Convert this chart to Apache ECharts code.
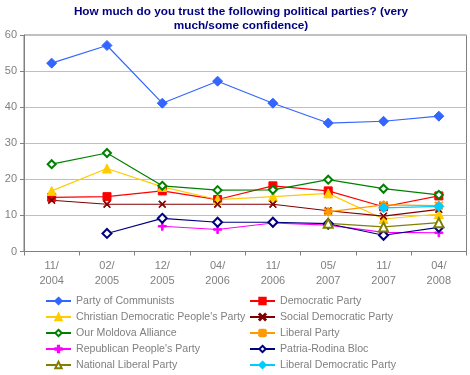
<!DOCTYPE html>
<html>
<head>
<meta charset="utf-8">
<script src="https://cdn.jsdelivr.net/npm/echarts@6/dist/echarts.min.js"></script>
<style>
  html, body { margin: 0; padding: 0; background: #fff; }
  #chart { width: 470px; height: 375px; }
</style>
</head>
<body>
<div id="chart"></div>
<script>
  const periods = ["11/\n2004", "02/\n2005", "12/\n2005", "04/\n2006", "11/\n2006", "05/\n2007", "11/\n2007", "04/\n2008"];
  const yTicks = [0, 10, 20, 30, 40, 50, 60];

  const communists = [52.2, 57.1, 41.1, 47.2, 41.1, 35.6, 36.1, 37.5];
  const democratic = [15.0, 15.2, 16.8, 14.4, 18.2, 16.8, 12.4, 15.4];
  const christianDem = [16.8, 23.0, 17.9, 14.4, 15.2, 16.1, 9.0, 10.4];
  const socialDem = [14.2, 13.1, 13.1, 13.1, 13.1, 11.3, 9.8, 11.7];
  const ourMoldova = [24.2, 27.3, 18.2, 17.0, 17.1, 19.9, 17.4, 15.7];
  const liberal = ["-", "-", "-", "-", "-", 11.0, 12.9, 12.7];
  const republican = ["-", "-", 7.0, 6.1, 7.9, 7.3, 5.3, 5.2];
  const patriaRodina = ["-", 5.0, 9.2, 8.1, 8.1, 7.7, 4.5, 6.7];
  const nationalLiberal = ["-", "-", "-", "-", "-", 7.8, 6.8, 8.0];
  const liberalDem = ["-", "-", "-", "-", "-", "-", 12.1, 12.5];

  const FONT = "Liberation Sans";
  const GREY = "#808080";

  // thin glyphs for the cross-type markers
  const PLUS = "path://M4,0H6V4H10V6H6V10H4V6H0V4H4Z";
  const CROSS = "path://M0,1L1,0L5,4L9,0L10,1L6,5L10,9L9,10L5,6L1,10L0,9L4,5Z";
  const STAR = "path://M4,0H6V4H10V6H6V10H4V6H0V4H4Z M0,1L1,0L5,4L9,0L10,1L6,5L10,9L9,10L5,6L1,10L0,9L4,5Z";

  const line = (name, data, color, symbol, symbolSize) => ({
    name,
    type: "line",
    data,
    symbol,
    symbolSize,
    showAllSymbol: true,
    animation: false,
    lineStyle: { color, width: 1.2 },
    itemStyle: { color, borderColor: color, borderWidth: 1 },
    emphasis: { disabled: true },
  });

  const series = [
    line("Party of Communists", communists, "#3366FF", "diamond", 10),
    line("Democratic Party", democratic, "#FF0000", "rect", 8),
    line("Christian Democratic People's Party", christianDem, "#FFCC00", "triangle", 9),
    line("Social Democratic Party", socialDem, "#800000", CROSS, 7),
    line("Our Moldova Alliance", ourMoldova, "#008000", "emptyDiamond", 8),
    line("Liberal Party", liberal, "#FF9900", STAR, 8),
    line("Republican People's Party", republican, "#FF00FF", PLUS, 8),
    line("Patria-Rodina Bloc", patriaRodina, "#000080", "emptyDiamond", 9),
    line("National Liberal Party", nationalLiberal, "#808000", "emptyTriangle", 9),
    line("Liberal Democratic Party", liberalDem, "#00CCFF", "diamond", 10),
  ];

  const names = series.map((s) => s.name);

  const legendBase = {
    orient: "vertical",
    top: 294,
    height: 80,
    padding: 0,
    itemWidth: 25,
    itemHeight: 8,
    itemGap: 2,
    textStyle: { color: GREY, fontFamily: FONT, fontSize: 10.6, lineHeight: 14 },
    selectedMode: false,
  };

  const chart = echarts.init(document.getElementById("chart"), null, { renderer: "canvas" });

  chart.setOption({
    backgroundColor: "#fff",
    title: {
      text: "How much do you trust the following political parties? (very\nmuch/some confidence)",
      left: 236,
      top: 0,
      textAlign: "center",
      textStyle: {
        color: "#000080",
        fontFamily: FONT,
        fontSize: 11.75,
        fontWeight: "bold",
        lineHeight: 14,
      },
    },
    legend: [
      { ...legendBase, left: 45, data: names.filter((_, i) => i % 2 === 0) },
      { ...legendBase, left: 249, data: names.filter((_, i) => i % 2 === 1) },
    ],
    grid: {
      left: 24,
      top: 35,
      width: 442.5,
      height: 216.5,
      show: true,
      borderColor: GREY,
      borderWidth: 1,
      containLabel: false,
    },
    xAxis: {
      type: "category",
      data: periods,
      boundaryGap: true,
      axisLine: { lineStyle: { color: GREY, width: 1 } },
      axisTick: { show: true, length: 4, lineStyle: { color: GREY } },
      axisLabel: {
        color: GREY,
        fontFamily: FONT,
        fontSize: 11,
        lineHeight: 15,
        margin: 7,
        interval: 0,
      },
      splitLine: { show: false },
    },
    yAxis: {
      type: "value",
      min: yTicks[0],
      max: yTicks[yTicks.length - 1],
      interval: 10,
      axisLine: { show: true, lineStyle: { color: GREY, width: 1 } },
      axisTick: { show: true, length: 4, lineStyle: { color: GREY } },
      axisLabel: {
        color: GREY,
        fontFamily: FONT,
        fontSize: 11,
        margin: 7,
      },
      splitLine: { lineStyle: { color: "#C0C0C0", width: 1 } },
    },
    series,
  });
</script>
</body>
</html>
